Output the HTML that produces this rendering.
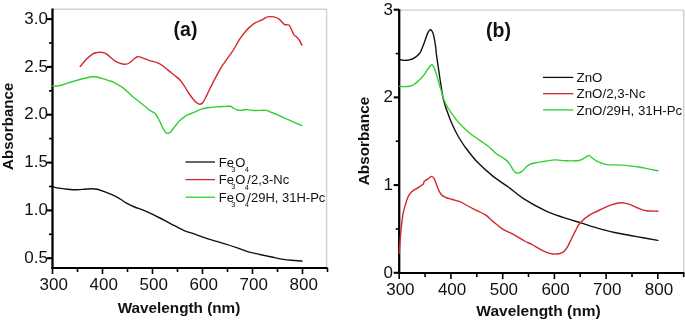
<!DOCTYPE html>
<html><head><meta charset="utf-8"><title>Absorbance spectra</title><style>
html,body{margin:0;padding:0;background:#fff;width:685px;height:322px;overflow:hidden}
svg{display:block;will-change:transform}
.t{font-family:"Liberation Sans", sans-serif;font-size:17px;fill:#111}
.bt{font-family:"Liberation Sans", sans-serif;font-size:15px;font-weight:bold;fill:#111}
.lbl{font-family:"Liberation Sans", sans-serif;font-size:19.5px;font-weight:bold;fill:#111}
.lg{font-family:"Liberation Sans", sans-serif;font-size:13px;fill:#111}
.sub{font-size:7.5px}
</style></head><body>
<svg width="685" height="322" viewBox="0 0 685 322"><rect width="685" height="322" fill="#fff"/><line x1="52.5" y1="9.2" x2="326.6" y2="9.2" stroke="#d0d0d0" stroke-width="1.4"/><line x1="326.6" y1="9.2" x2="326.6" y2="268" stroke="#d0d0d0" stroke-width="1.4"/><line x1="52.5" y1="8.5" x2="52.5" y2="269" stroke="#000" stroke-width="2.3"/><line x1="51.5" y1="268" x2="327.5" y2="268" stroke="#000" stroke-width="2"/><line x1="52.5" y1="268" x2="52.5" y2="274" stroke="#000" stroke-width="1.6"/><text x="53.7" y="289.6" text-anchor="middle" class="t">300</text><line x1="77.5" y1="268" x2="77.5" y2="272" stroke="#000" stroke-width="1.6"/><line x1="102.5" y1="268" x2="102.5" y2="274" stroke="#000" stroke-width="1.6"/><text x="103.7" y="289.6" text-anchor="middle" class="t">400</text><line x1="127.5" y1="268" x2="127.5" y2="272" stroke="#000" stroke-width="1.6"/><line x1="152.5" y1="268" x2="152.5" y2="274" stroke="#000" stroke-width="1.6"/><text x="153.7" y="289.6" text-anchor="middle" class="t">500</text><line x1="177.5" y1="268" x2="177.5" y2="272" stroke="#000" stroke-width="1.6"/><line x1="202.5" y1="268" x2="202.5" y2="274" stroke="#000" stroke-width="1.6"/><text x="203.7" y="289.6" text-anchor="middle" class="t">600</text><line x1="227.5" y1="268" x2="227.5" y2="272" stroke="#000" stroke-width="1.6"/><line x1="252.5" y1="268" x2="252.5" y2="274" stroke="#000" stroke-width="1.6"/><text x="253.7" y="289.6" text-anchor="middle" class="t">700</text><line x1="277.5" y1="268" x2="277.5" y2="272" stroke="#000" stroke-width="1.6"/><line x1="302.5" y1="268" x2="302.5" y2="274" stroke="#000" stroke-width="1.6"/><text x="303.7" y="289.6" text-anchor="middle" class="t">800</text><line x1="327.5" y1="268" x2="327.5" y2="272" stroke="#000" stroke-width="1.6"/><line x1="47.0" y1="258.2" x2="52.5" y2="258.2" stroke="#000" stroke-width="2.1"/><text x="48" y="262.8" text-anchor="end" class="t">0.5</text><line x1="47.0" y1="210.4" x2="52.5" y2="210.4" stroke="#000" stroke-width="2.1"/><text x="48" y="215.0" text-anchor="end" class="t">1.0</text><line x1="47.0" y1="162.6" x2="52.5" y2="162.6" stroke="#000" stroke-width="2.1"/><text x="48" y="167.2" text-anchor="end" class="t">1.5</text><line x1="47.0" y1="114.7" x2="52.5" y2="114.7" stroke="#000" stroke-width="2.1"/><text x="48" y="119.3" text-anchor="end" class="t">2.0</text><line x1="47.0" y1="66.9" x2="52.5" y2="66.9" stroke="#000" stroke-width="2.1"/><text x="48" y="71.5" text-anchor="end" class="t">2.5</text><line x1="47.0" y1="19.1" x2="52.5" y2="19.1" stroke="#000" stroke-width="2.1"/><text x="48" y="23.7" text-anchor="end" class="t">3.0</text><line x1="49.0" y1="234.3" x2="52.5" y2="234.3" stroke="#000" stroke-width="1.6"/><line x1="49.0" y1="186.5" x2="52.5" y2="186.5" stroke="#000" stroke-width="1.6"/><line x1="49.0" y1="138.6" x2="52.5" y2="138.6" stroke="#000" stroke-width="1.6"/><line x1="49.0" y1="90.8" x2="52.5" y2="90.8" stroke="#000" stroke-width="1.6"/><line x1="49.0" y1="43.0" x2="52.5" y2="43.0" stroke="#000" stroke-width="1.6"/><line x1="399.2" y1="10.1" x2="683.8" y2="10.1" stroke="#d0d0d0" stroke-width="1.4"/><line x1="683.8" y1="10.1" x2="683.8" y2="273.1" stroke="#d0d0d0" stroke-width="1.4"/><line x1="399.2" y1="9.2" x2="399.2" y2="274.1" stroke="#000" stroke-width="2.3"/><line x1="398.2" y1="273.1" x2="684.5" y2="273.1" stroke="#000" stroke-width="2"/><line x1="399.2" y1="273.1" x2="399.2" y2="279.1" stroke="#000" stroke-width="1.6"/><text x="400.4" y="295.3" text-anchor="middle" class="t">300</text><line x1="425.1" y1="273.1" x2="425.1" y2="277.1" stroke="#000" stroke-width="1.6"/><line x1="450.9" y1="273.1" x2="450.9" y2="279.1" stroke="#000" stroke-width="1.6"/><text x="452.1" y="295.3" text-anchor="middle" class="t">400</text><line x1="476.8" y1="273.1" x2="476.8" y2="277.1" stroke="#000" stroke-width="1.6"/><line x1="502.7" y1="273.1" x2="502.7" y2="279.1" stroke="#000" stroke-width="1.6"/><text x="503.9" y="295.3" text-anchor="middle" class="t">500</text><line x1="528.5" y1="273.1" x2="528.5" y2="277.1" stroke="#000" stroke-width="1.6"/><line x1="554.4" y1="273.1" x2="554.4" y2="279.1" stroke="#000" stroke-width="1.6"/><text x="555.6" y="295.3" text-anchor="middle" class="t">600</text><line x1="580.2" y1="273.1" x2="580.2" y2="277.1" stroke="#000" stroke-width="1.6"/><line x1="606.1" y1="273.1" x2="606.1" y2="279.1" stroke="#000" stroke-width="1.6"/><text x="607.3" y="295.3" text-anchor="middle" class="t">700</text><line x1="632.0" y1="273.1" x2="632.0" y2="277.1" stroke="#000" stroke-width="1.6"/><line x1="657.8" y1="273.1" x2="657.8" y2="279.1" stroke="#000" stroke-width="1.6"/><text x="659.0" y="295.3" text-anchor="middle" class="t">800</text><line x1="683.7" y1="273.1" x2="683.7" y2="277.1" stroke="#000" stroke-width="1.6"/><line x1="393.7" y1="272.8" x2="399.2" y2="272.8" stroke="#000" stroke-width="2.1"/><text x="393" y="277.8" text-anchor="end" class="t">0</text><line x1="393.7" y1="185.1" x2="399.2" y2="185.1" stroke="#000" stroke-width="2.1"/><text x="393" y="190.1" text-anchor="end" class="t">1</text><line x1="393.7" y1="97.4" x2="399.2" y2="97.4" stroke="#000" stroke-width="2.1"/><text x="393" y="102.4" text-anchor="end" class="t">2</text><line x1="393.7" y1="9.7" x2="399.2" y2="9.7" stroke="#000" stroke-width="2.1"/><text x="393" y="14.7" text-anchor="end" class="t">3</text><line x1="395.7" y1="229.0" x2="399.2" y2="229.0" stroke="#000" stroke-width="1.6"/><line x1="395.7" y1="141.2" x2="399.2" y2="141.2" stroke="#000" stroke-width="1.6"/><line x1="395.7" y1="53.6" x2="399.2" y2="53.6" stroke="#000" stroke-width="1.6"/><path d="M53.1,186.8 C54.0,187.0 56.4,187.7 58.8,188.1 C61.2,188.5 64.5,188.9 67.5,189.2 C70.5,189.5 74.2,189.8 77.1,189.8 C80.0,189.8 82.5,189.4 85.0,189.2 C87.5,189.0 90.0,188.7 92.0,188.7 C94.0,188.7 95.5,188.8 97.3,189.2 C99.0,189.6 100.4,190.2 102.5,191.0 C104.6,191.8 107.8,193.0 110.0,193.9 C112.2,194.8 113.8,195.5 115.6,196.4 C117.4,197.3 119.2,198.4 121.0,199.5 C122.8,200.6 123.8,201.6 126.1,202.8 C128.4,204.1 131.9,205.9 134.6,207.0 C137.2,208.1 139.5,208.6 142.0,209.6 C144.5,210.6 146.8,211.6 149.4,212.8 C152.0,214.0 155.2,215.7 157.8,217.0 C160.4,218.3 162.7,219.5 165.0,220.7 C167.3,221.9 168.7,222.8 171.8,224.4 C174.9,226.0 179.7,228.6 183.6,230.3 C187.5,232.0 191.5,233.0 195.4,234.4 C199.3,235.8 203.3,237.3 207.2,238.6 C211.1,239.9 216.0,241.2 219.0,242.1 C222.0,243.0 222.1,243.0 225.0,243.9 C227.9,244.8 232.8,246.4 236.7,247.7 C240.6,249.0 244.5,250.7 248.4,251.8 C252.3,252.9 256.1,253.6 260.0,254.5 C263.9,255.4 267.8,256.2 271.7,257.0 C275.6,257.8 279.5,258.8 283.4,259.4 C287.3,260.0 292.0,260.2 295.1,260.5 C298.2,260.8 300.9,261.0 302.1,261.1" fill="none" stroke="#111" stroke-width="1.4" stroke-linejoin="round" stroke-linecap="round"/><path d="M80.2,66.5 C81.2,65.3 84.4,61.4 86.4,59.3 C88.5,57.2 90.8,55.2 92.5,54.1 C94.2,53.0 95.2,52.9 96.5,52.6 C97.8,52.3 99.1,52.2 100.4,52.3 C101.7,52.3 103.2,52.4 104.5,52.9 C105.8,53.4 106.6,54.1 108.3,55.4 C110.0,56.7 112.7,59.4 114.4,60.6 C116.2,61.8 117.0,62.2 118.8,62.8 C120.5,63.4 123.2,64.3 124.9,64.3 C126.7,64.3 127.8,63.9 129.3,63.0 C130.8,62.1 132.3,60.2 133.7,59.2 C135.1,58.2 136.1,56.9 137.5,56.7 C138.9,56.5 140.5,57.2 142.4,57.8 C144.3,58.4 146.4,59.5 148.9,60.3 C151.4,61.1 155.4,62.0 157.6,62.8 C159.8,63.6 159.8,63.6 162.0,65.2 C164.2,66.8 168.4,70.4 170.7,72.3 C173.0,74.2 174.4,75.3 176.0,76.6 C177.6,77.9 178.8,78.7 180.2,80.3 C181.6,81.9 183.0,84.0 184.4,86.1 C185.8,88.2 187.3,90.9 188.7,93.0 C190.1,95.1 191.6,97.2 192.9,98.8 C194.2,100.4 195.4,101.9 196.6,102.8 C197.8,103.7 198.8,104.3 199.8,104.3 C200.9,104.2 201.8,104.0 202.9,102.5 C204.0,101.0 205.4,97.9 206.6,95.6 C207.8,93.3 208.9,90.6 209.8,88.8 C210.7,87.0 210.9,86.8 212.0,84.6 C213.1,82.4 214.9,78.8 216.6,75.7 C218.3,72.6 220.2,69.0 222.3,65.7 C224.4,62.4 227.5,58.5 229.4,55.7 C231.3,52.9 232.2,51.9 234.0,49.0 C235.8,46.1 237.9,41.7 240.0,38.6 C242.1,35.5 244.7,32.3 246.5,30.2 C248.3,28.1 249.5,27.3 251.0,26.0 C252.5,24.7 253.9,23.5 255.6,22.6 C257.2,21.7 259.5,21.0 260.9,20.4 C262.3,19.8 262.9,19.3 264.0,18.7 C265.1,18.1 265.8,17.2 267.4,16.9 C269.0,16.6 271.9,16.5 273.9,16.9 C275.8,17.3 277.4,17.9 279.1,19.1 C280.8,20.3 282.7,23.3 284.3,24.3 C285.9,25.3 287.7,24.1 288.9,25.0 C290.1,25.9 290.6,27.8 291.5,29.5 C292.4,31.2 293.2,33.9 294.1,35.1 C295.0,36.3 295.8,36.0 296.7,36.9 C297.6,37.8 298.6,39.1 299.5,40.5 C300.4,41.9 301.5,44.4 301.9,45.2" fill="none" stroke="#d02828" stroke-width="1.4" stroke-linejoin="round" stroke-linecap="round"/><path d="M52.5,85.8 C53.5,85.8 56.3,86.2 58.8,85.8 C61.3,85.3 64.6,84.0 67.5,83.1 C70.4,82.2 73.4,81.3 76.3,80.5 C79.2,79.7 82.4,78.9 85.0,78.3 C87.6,77.7 90.0,77.0 92.0,76.8 C94.0,76.6 95.2,76.6 97.3,77.0 C99.4,77.4 102.5,78.5 104.6,79.2 C106.7,79.9 108.4,80.5 110.0,81.0 C111.6,81.5 111.8,81.3 114.0,82.5 C116.2,83.7 120.0,85.7 123.0,87.9 C126.0,90.2 129.0,93.5 132.0,96.0 C135.0,98.5 138.0,100.8 141.0,103.2 C144.0,105.6 147.7,108.7 150.0,110.4 C152.3,112.1 153.4,111.8 155.0,113.5 C156.6,115.2 158.2,118.4 159.5,120.8 C160.8,123.2 161.8,126.0 162.8,128.0 C163.8,129.9 164.8,131.6 165.6,132.5 C166.4,133.4 167.0,133.4 167.8,133.3 C168.6,133.2 169.4,133.1 170.6,131.9 C171.8,130.7 173.6,128.2 175.1,126.3 C176.6,124.4 177.9,122.5 179.6,120.8 C181.3,119.1 183.5,117.4 185.2,116.3 C186.9,115.2 188.3,114.8 190.0,114.0 C191.7,113.2 193.4,112.6 195.3,111.8 C197.2,111.0 199.4,109.8 201.4,109.1 C203.4,108.4 205.0,108.2 207.5,107.8 C210.0,107.4 213.7,107.1 216.3,106.9 C218.9,106.7 221.0,106.6 223.3,106.5 C225.6,106.4 228.7,106.1 230.3,106.3 C231.9,106.5 231.7,107.2 232.9,107.8 C234.1,108.4 236.0,109.6 237.3,110.0 C238.6,110.4 239.4,110.5 240.8,110.4 C242.2,110.3 244.2,109.5 246.0,109.5 C247.8,109.5 249.3,110.2 251.5,110.4 C253.7,110.6 256.6,110.4 259.0,110.4 C261.4,110.4 264.1,110.2 266.0,110.4 C267.9,110.7 268.3,111.2 270.2,111.9 C272.1,112.7 274.8,113.7 277.6,114.9 C280.4,116.1 283.9,117.8 286.9,119.1 C289.8,120.4 292.8,121.7 295.3,122.8 C297.8,123.9 300.8,125.1 301.9,125.6" fill="none" stroke="#30d030" stroke-width="1.4" stroke-linejoin="round" stroke-linecap="round"/><path d="M399.5,59.5 C399.7,59.5 399.9,59.6 400.6,59.7 C401.4,59.9 402.5,60.4 404.0,60.4 C405.5,60.4 407.7,60.4 409.6,59.9 C411.5,59.4 413.5,58.4 415.2,57.3 C416.9,56.2 418.6,54.6 419.7,53.2 C420.8,51.8 421.1,50.7 421.9,48.7 C422.7,46.7 423.8,43.9 424.7,41.4 C425.6,38.9 426.6,35.6 427.5,33.6 C428.4,31.7 429.4,29.7 430.3,29.7 C431.2,29.7 432.4,31.6 433.1,33.6 C433.9,35.6 434.4,39.1 434.8,41.5 C435.2,43.9 435.5,45.8 435.8,48.0 C436.1,50.2 436.1,52.2 436.5,55.0 C436.9,57.8 437.4,61.6 437.9,64.9 C438.4,68.2 438.9,71.6 439.4,74.9 C439.9,78.2 440.2,80.6 440.9,84.8 C441.6,89.0 442.4,95.4 443.5,99.9 C444.6,104.4 445.9,107.8 447.4,112.0 C448.9,116.2 450.6,120.8 452.4,124.8 C454.2,128.8 455.9,132.4 458.0,136.0 C460.1,139.6 461.6,142.2 464.8,146.6 C468.0,150.9 472.6,157.2 477.3,162.1 C482.0,167.0 487.6,171.9 492.8,176.1 C498.0,180.2 503.1,183.2 508.3,187.0 C513.5,190.8 517.7,194.8 523.9,198.8 C530.1,202.8 539.2,207.7 545.7,210.8 C552.2,213.9 557.4,215.4 563.2,217.4 C569.0,219.4 574.9,221.0 580.7,222.8 C586.5,224.6 592.4,226.7 598.2,228.3 C604.0,230.0 609.5,231.3 615.7,232.7 C621.9,234.0 628.4,235.1 635.4,236.4 C642.4,237.7 654.1,239.7 657.8,240.4" fill="none" stroke="#111" stroke-width="1.4" stroke-linejoin="round" stroke-linecap="round"/><path d="M399.2,253.5 C399.4,250.4 400.0,241.2 400.6,234.8 C401.2,228.4 402.0,220.3 402.8,215.2 C403.6,210.1 404.7,207.1 405.6,204.0 C406.5,200.9 407.1,198.8 408.1,196.7 C409.1,194.6 410.1,193.2 411.8,191.7 C413.6,190.1 416.7,188.7 418.6,187.4 C420.5,186.1 422.4,185.0 423.3,184.0 C424.2,183.0 423.6,182.1 424.3,181.3 C425.0,180.5 426.1,180.1 427.3,179.3 C428.5,178.5 430.4,176.5 431.5,176.4 C432.6,176.3 433.2,177.0 434.2,178.7 C435.2,180.4 436.2,184.1 437.3,186.7 C438.4,189.3 439.6,192.4 441.0,194.2 C442.4,196.0 444.1,196.6 446.0,197.5 C447.9,198.4 449.9,198.8 452.2,199.5 C454.5,200.2 457.9,200.8 460.0,201.6 C462.1,202.4 462.5,203.1 464.9,204.4 C467.3,205.7 470.8,207.6 474.2,209.3 C477.6,211.0 482.3,212.8 485.4,214.8 C488.5,216.8 490.1,219.1 492.9,221.4 C495.7,223.7 498.8,226.6 502.2,228.8 C505.6,231.0 509.7,232.4 513.4,234.4 C517.1,236.4 521.5,239.3 524.6,241.0 C527.7,242.7 529.6,243.2 532.0,244.5 C534.4,245.8 536.7,247.3 539.0,248.6 C541.3,249.9 543.7,251.2 546.0,252.1 C548.3,253.0 550.9,253.7 553.0,254.0 C555.1,254.3 556.9,254.1 558.5,253.8 C560.1,253.5 561.3,253.4 562.7,252.4 C564.1,251.4 565.5,250.0 566.9,247.9 C568.3,245.8 569.7,242.4 571.1,239.6 C572.5,236.8 573.8,234.0 575.3,231.2 C576.8,228.4 577.6,225.7 580.0,223.0 C582.4,220.3 585.6,217.6 589.4,215.2 C593.2,212.8 599.0,210.3 602.6,208.6 C606.2,206.9 608.2,205.9 611.3,204.9 C614.4,203.9 618.3,202.8 621.2,202.7 C624.1,202.6 626.2,203.3 628.9,204.2 C631.6,205.1 634.7,206.9 637.6,208.0 C640.5,209.1 643.0,210.3 646.4,210.8 C649.8,211.3 655.9,211.1 657.8,211.2" fill="none" stroke="#d02828" stroke-width="1.4" stroke-linejoin="round" stroke-linecap="round"/><path d="M399.5,86.4 C400.2,86.4 402.3,86.6 404.0,86.6 C405.7,86.6 408.0,86.5 409.7,86.2 C411.4,85.9 412.6,85.4 414.0,84.5 C415.4,83.6 416.9,82.2 418.2,81.0 C419.5,79.8 420.6,78.8 421.8,77.5 C423.0,76.2 424.1,74.8 425.1,73.3 C426.1,71.8 426.9,70.2 428.0,68.8 C429.1,67.4 430.8,64.5 432.0,64.7 C433.2,64.9 434.1,67.7 435.0,69.9 C435.9,72.1 436.7,75.4 437.4,77.9 C438.1,80.4 438.8,82.8 439.4,84.8 C440.0,86.8 440.2,87.4 441.0,89.9 C441.8,92.4 442.8,96.9 444.0,99.9 C445.2,102.9 446.1,104.9 448.0,108.0 C449.9,111.1 453.2,115.6 455.5,118.6 C457.8,121.6 459.4,123.4 462.0,126.0 C464.6,128.6 466.9,131.0 471.0,134.2 C475.1,137.4 482.4,141.8 486.6,145.0 C490.8,148.2 493.6,151.6 496.0,153.5 C498.4,155.4 499.3,155.4 501.0,156.5 C502.7,157.6 504.5,158.6 506.0,159.9 C507.5,161.2 508.8,162.8 509.9,164.4 C511.0,166.0 512.0,168.1 512.9,169.4 C513.8,170.7 514.5,171.8 515.4,172.4 C516.3,173.0 517.3,173.3 518.4,173.1 C519.5,172.9 520.6,172.3 521.9,171.4 C523.1,170.5 524.6,168.6 525.9,167.4 C527.2,166.2 528.1,165.2 529.8,164.4 C531.5,163.6 533.4,163.2 536.0,162.7 C538.6,162.2 542.0,161.8 545.2,161.3 C548.4,160.8 552.0,160.0 555.4,159.9 C558.8,159.8 561.7,160.7 565.6,160.8 C569.5,160.9 575.7,161.0 578.9,160.5 C582.1,160.0 583.2,158.5 584.9,157.7 C586.6,156.8 587.9,155.3 589.1,155.4 C590.3,155.5 591.1,157.2 592.3,158.1 C593.5,159.0 594.8,160.0 596.3,160.8 C597.8,161.6 599.2,162.2 601.0,162.8 C602.8,163.4 603.7,164.2 607.2,164.6 C610.7,165.0 616.8,164.7 622.1,165.1 C627.4,165.5 634.5,166.4 638.9,167.0 C643.2,167.6 645.0,168.3 648.2,168.9 C651.4,169.5 656.3,170.4 657.9,170.7" fill="none" stroke="#30d030" stroke-width="1.4" stroke-linejoin="round" stroke-linecap="round"/><text transform="translate(12.5,126.3) rotate(-90)" text-anchor="middle" class="bt" style="font-size:15.1px">Absorbance</text><text transform="translate(369,141) rotate(-90)" text-anchor="middle" class="bt" style="font-size:15.3px">Absorbance</text><text x="179" y="313.3" text-anchor="middle" class="bt" style="font-size:15.3px">Wavelength (nm)</text><text x="538.5" y="315.5" text-anchor="middle" class="bt" style="font-size:15.5px">Wavelength (nm)</text><text x="185.5" y="36" text-anchor="middle" class="lbl">(a)</text><text x="498.5" y="37.3" text-anchor="middle" class="lbl">(b)</text><line x1="185.5" y1="162.0" x2="215" y2="162.0" stroke="#111" stroke-width="1.3"/><text x="218.8" y="166.5" class="lg">Fe<tspan dx="-2.6" dy="5.2" class="sub">3</tspan><tspan dx="-0.4" dy="-5.2">O</tspan><tspan dx="-0.6" dy="5.4" class="sub">4</tspan><tspan dx="-1.5" dy="-5.4"></tspan></text><line x1="185.5" y1="179.6" x2="215" y2="179.6" stroke="#d02828" stroke-width="1.3"/><text x="218.8" y="184.1" class="lg">Fe<tspan dx="-2.6" dy="5.2" class="sub">3</tspan><tspan dx="-0.4" dy="-5.2">O</tspan><tspan dx="-0.6" dy="5.4" class="sub">4</tspan><tspan dx="-1.5" dy="-5.4">/2,3-Nc</tspan></text><line x1="185.5" y1="197.2" x2="215" y2="197.2" stroke="#30d030" stroke-width="1.3"/><text x="218.8" y="201.7" class="lg">Fe<tspan dx="-2.6" dy="5.2" class="sub">3</tspan><tspan dx="-0.4" dy="-5.2">O</tspan><tspan dx="-0.6" dy="5.4" class="sub">4</tspan><tspan dx="-1.5" dy="-5.4">/29H, 31H-Pc</tspan></text><line x1="543" y1="77.4" x2="573.3" y2="77.4" stroke="#111" stroke-width="1.3"/><text x="576.6" y="82.0" class="lg" style="font-size:13.3px">ZnO</text><line x1="543" y1="93.7" x2="573.3" y2="93.7" stroke="#d02828" stroke-width="1.3"/><text x="576.6" y="98.2" class="lg" style="font-size:13.3px">ZnO/2,3-Nc</text><line x1="543" y1="109.9" x2="573.3" y2="109.9" stroke="#30d030" stroke-width="1.3"/><text x="576.6" y="114.5" class="lg" style="font-size:13.3px">ZnO/29H, 31H-Pc</text></svg>
</body></html>
